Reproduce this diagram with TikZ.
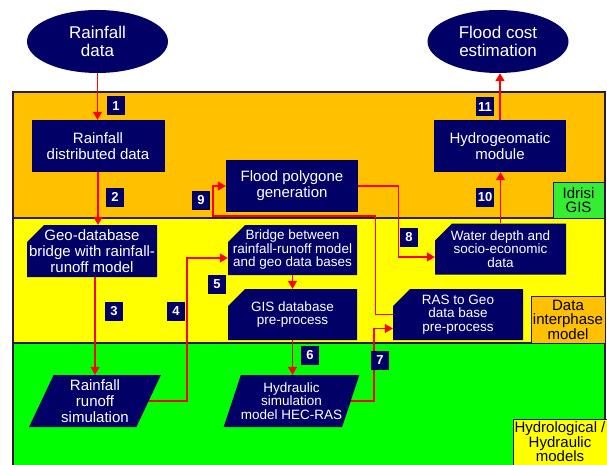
\documentclass[tikz,border=0pt]{standalone}
\usepackage{fontspec}
\setmainfont{Liberation Sans}
\usetikzlibrary{shapes.geometric,arrows.meta}

\definecolor{navy}{HTML}{000066}
\definecolor{bandorange}{HTML}{FFC000}
\definecolor{bandyellow}{HTML}{FFFF00}
\definecolor{bandgreen}{HTML}{00FF00}
\definecolor{taggreen}{HTML}{33EE33}
\definecolor{edge}{HTML}{2A1A40}

\begin{document}
\begin{tikzpicture}[x=1pt,y=-1pt,
  proc/.style={fill=navy,text=white,align=center,inner sep=0pt,
    minimum width=132pt,minimum height=52pt,font=\fontsize{15}{16}\selectfont},
  smalltext/.style={font=\fontsize{13.5}{13.5}\selectfont},
  chamf/.style={proc,fill=none,path picture={
    \fill[navy] ([yshift=-17pt]path picture bounding box.north west)
      -- ([xshift=17pt]path picture bounding box.north west)
      -- (path picture bounding box.north east)
      -- (path picture bounding box.south east)
      -- (path picture bounding box.south west) -- cycle;}},
  slant/.style={proc,trapezium,trapezium left angle=65,trapezium right angle=115,
    trapezium stretches=true},
  io/.style={proc,ellipse,minimum width=141pt,minimum height=63pt,
    font=\fontsize{17}{18}\selectfont},
  num/.style={fill=navy,text=white,inner sep=0pt,minimum width=18pt,
    minimum height=19pt,font=\fontsize{13}{13}\selectfont\bfseries},
  area/.style={draw=edge,line width=0.8pt,align=center,inner sep=0pt,
    font=\fontsize{15}{14.5}\selectfont},
  flow/.style={draw=red,line width=1.3pt,-{Triangle[width=9pt,length=8pt]}}]
  \useasboundingbox[fill=white] (0,0) rectangle (607,465);
  % layers
  \fill[bandorange] (13,92) rectangle (605,218);
  \fill[bandyellow] (13,218) rectangle (605,343);
  \fill[bandgreen] (13,343) rectangle (605,470);
  \draw[edge,line width=2pt] (605,470)--(605,92)--(13,92)--(13,470);
  \draw[edge,line width=2pt] (13,218)--(605,218);
  \draw[edge,line width=2pt] (13,343)--(605,343);
  % boxes
  \node[io] (rain) at (97.5,41.5) {Rainfall\\data};
  \node[io] (cost) at (498,41.5) {Flood cost\\estimation};
  \node[proc,minimum width=133pt] (rdd) at (98,146) {Rainfall\\distributed data};
  \node[chamf,minimum width=130pt] (geo) at (92,251) {Geo-database\\bridge with rainfall-\\runoff model};
  \node[slant] (rr) at (95,401) {Rainfall\\runoff\\simulation};
  \node[chamf,smalltext,minimum width=129pt,minimum height=50pt] (bridge) at (292.5,250) {Bridge between\\rainfall-runoff model\\and geo data bases};
  \node[chamf,smalltext,minimum width=129pt,minimum height=51pt] (gis) at (292.5,314.5) {GIS database\\pre-process};
  \node[slant,smalltext,minimum width=131pt] (hyd) at (291.5,401) {Hydraulic\\simulation\\model HEC-RAS};
  \node[proc] (flood) at (292,186) {Flood polygone\\generation};
  \node[chamf,smalltext,minimum width=130pt,minimum height=51pt] (ras) at (458,314.5) {RAS to Geo\\data base\\pre-process};
  \node[chamf,smalltext,minimum width=131pt,minimum height=51pt] (water) at (500.5,249) {Water depth and\\socio-economic\\data};
  \node[proc] (hydro) at (500,146) {Hydrogeomatic\\module};
  \coordinate (c9) at (213,216);
  % connectors
  \draw[flow] (rain.south) -- (rain.south |- rdd.north);
  \draw[flow] (rdd.south) -- (rdd.south |- geo.north);
  \draw[flow] (rr.north |- geo.south) -- (rr.north);
  \draw[flow] (rr.east) -- ++(38,0) |- ([yshift=-8pt]bridge.west);
  \draw[flow] (bridge.south) -- (gis.north);
  \draw[flow] (gis.south) -- (gis.south |- hyd.north);
  \draw[flow] (hyd.east) -- ++(23,0) |- ([yshift=-14pt]ras.west);
  \draw[flow] (flood.east) -- ++(40,0) |- ([yshift=-8pt]water.west);
  \draw[flow] (ras.west) -- ++(-17,0) |- (c9) |- (flood.west);
  \draw[flow] (water.north) -- (water.north |- hydro.south);
  \draw[flow] (hydro.north) -- (hydro.north |- cost.south);
  % step numbers
  \node[num] (n1) at (116,106) {1};
  \node[num] (n2) at (115,197) {2};
  \node[num] (n3) at (114,311) {3};
  \node[num] (n4) at (176,311) {4};
  \node[num] (n5) at (217,284.5) {5};
  \node[num] (n6) at (310,355) {6};
  \node[num] (n7) at (380,360) {7};
  \node[num] (n8) at (409,237) {8};
  \node[num] (n9) at (201,200) {9};
  \node[num] (n10) at (485,197) {10};
  \node[num] (n11) at (485,107) {11};
  % layer names
  \node[area,fill=taggreen,minimum width=51pt,minimum height=36pt] (gisname) at (578.5,200) {Idrisi\\GIS};
  \node[area,fill=bandorange,minimum width=74pt,minimum height=47pt] (dataname) at (568,319.5) {Data\\interphase\\model};
  \node[area,fill=bandyellow,minimum width=94pt,minimum height=46pt] (hydname) at (560,442) {Hydrological /\\Hydraulic\\models};
\end{tikzpicture}
\end{document}
